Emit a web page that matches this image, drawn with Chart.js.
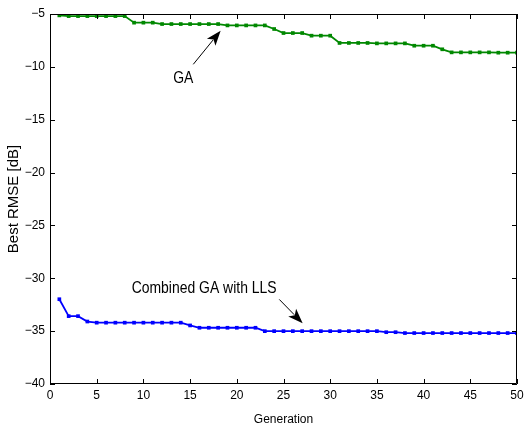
<!DOCTYPE html>
<html>
<head>
<meta charset="utf-8">
<script src="https://cdn.jsdelivr.net/npm/chart.js@4.4.0/dist/chart.umd.min.js"></script>
<style>
  html, body { margin: 0; padding: 0; background: #fff; }
</style>
</head>
<body>
<canvas id="rmse" width="525" height="432"></canvas>
<script>
// generation number (x axis)
const generations = [
  1, 2, 3, 4, 5, 6, 7, 8, 9, 10,
  11, 12, 13, 14, 15, 16, 17, 18, 19, 20,
  21, 22, 23, 24, 25, 26, 27, 28, 29, 30,
  31, 32, 33, 34, 35, 36, 37, 38, 39, 40,
  41, 42, 43, 44, 45, 46, 47, 48, 49, 50
];

// best RMSE [dB] of plain GA
const gaRmse = [
  -5.13, -5.2, -5.2, -5.2, -5.2, -5.2, -5.2, -5.2, -5.82, -5.82,
  -5.82, -5.95, -5.95, -5.95, -5.95, -5.95, -5.95, -5.95, -6.08, -6.08,
  -6.08, -6.08, -6.08, -6.42, -6.8, -6.8, -6.8, -7.05, -7.05, -7.05,
  -7.74, -7.74, -7.74, -7.74, -7.78, -7.78, -7.78, -7.78, -8.0, -8.0,
  -8.0, -8.34, -8.63, -8.63, -8.63, -8.63, -8.63, -8.66, -8.66, -8.66
];

// best RMSE [dB] of GA combined with LLS
const gaLlsRmse = [
  -31.98, -33.58, -33.58, -34.09, -34.2, -34.2, -34.2, -34.2, -34.2, -34.2,
  -34.2, -34.2, -34.2, -34.2, -34.46, -34.68, -34.68, -34.68, -34.68, -34.68,
  -34.68, -34.68, -35.0, -35.0, -35.0, -35.0, -35.0, -35.0, -35.0, -35.0,
  -35.0, -35.0, -35.0, -35.0, -35.0, -35.1, -35.1, -35.18, -35.18, -35.18,
  -35.18, -35.18, -35.18, -35.18, -35.18, -35.18, -35.18, -35.18, -35.18, -35.18
];

const xTicks = [0, 5, 10, 15, 20, 25, 30, 35, 40, 45, 50];
const yTicks = [-40, -35, -30, -25, -20, -15, -10, -5];

const seriesNames = ['GA', 'Combined GA with LLS'];

const FONT = "'Liberation Sans', Arial, sans-serif";

// text + arrow annotations, in data units
const notes = [
  { text: seriesNames[0], x: 14.27, y: -11.1, from: [15.34, -9.76], to: [18.27, -6.58] },
  { text: seriesNames[1], x: 16.5, y: -30.95, from: [24.55, -32.0], to: [27.05, -34.26] }
];

function toPoints(ys) {
  return generations.map((g, i) => ({ x: g, y: ys[i] }));
}

// matlab style box with inward ticks, plus the annotations
const matlabAxes = {
  id: 'matlabAxes',
  afterDraw(chart) {
    const ctx = chart.ctx;
    const a = chart.chartArea;
    const xs = chart.scales.x, ys = chart.scales.y;
    const tl = 5;
    ctx.save();
    ctx.strokeStyle = '#000';
    ctx.lineWidth = 1;
    ctx.beginPath();
    ctx.rect(a.left + 0.5, a.top + 0.5, a.right - a.left - 1, a.bottom - a.top - 1);
    xTicks.forEach(v => {
      const px = Math.round(xs.getPixelForValue(v)) + 0.5;
      ctx.moveTo(px, a.bottom); ctx.lineTo(px, a.bottom - tl);
      ctx.moveTo(px, a.top); ctx.lineTo(px, a.top + tl);
    });
    yTicks.forEach(v => {
      const py = Math.round(ys.getPixelForValue(v)) + 0.5;
      ctx.moveTo(a.left, py); ctx.lineTo(a.left + tl, py);
      ctx.moveTo(a.right, py); ctx.lineTo(a.right - tl, py);
    });
    ctx.stroke();

    // annotations (condensed like the matlab helvetica)
    ctx.fillStyle = '#000';
    ctx.font = '17px ' + FONT;
    ctx.textAlign = 'center';
    ctx.textBaseline = 'middle';
    notes.forEach(n => {
      const tx = xs.getPixelForValue(n.x), ty = ys.getPixelForValue(n.y);
      ctx.save();
      ctx.translate(tx, ty);
      ctx.scale(0.82, 1);
      ctx.fillText(n.text, 0, 0);
      ctx.restore();

      const x0 = xs.getPixelForValue(n.from[0]), y0 = ys.getPixelForValue(n.from[1]);
      const x1 = xs.getPixelForValue(n.to[0]), y1 = ys.getPixelForValue(n.to[1]);
      const ang = Math.atan2(y1 - y0, x1 - x0);
      const len = 15, hw = 5.5;
      ctx.beginPath();
      ctx.moveTo(x0, y0);
      ctx.lineTo(x1 - Math.cos(ang) * len * 0.8, y1 - Math.sin(ang) * len * 0.8);
      ctx.stroke();
      // notched arrow head
      const bx = x1 - Math.cos(ang) * len, by = y1 - Math.sin(ang) * len;
      const nx = x1 - Math.cos(ang) * len * 0.75, ny = y1 - Math.sin(ang) * len * 0.75;
      ctx.beginPath();
      ctx.moveTo(x1, y1);
      ctx.lineTo(bx + Math.sin(ang) * hw, by - Math.cos(ang) * hw);
      ctx.lineTo(nx, ny);
      ctx.lineTo(bx - Math.sin(ang) * hw, by + Math.cos(ang) * hw);
      ctx.closePath();
      ctx.fill();
    });
    ctx.restore();
  }
};

const minus = v => (v < 0 ? '\u2212' + Math.abs(v) : String(v));

new Chart(document.getElementById('rmse'), {
  type: 'line',
  data: {
    datasets: [
      {
        label: seriesNames[0],
        data: toPoints(gaRmse),
        borderColor: '#008800',
        backgroundColor: '#008800',
        borderWidth: 1.8,
        pointStyle: 'rect',
        pointRadius: 2.6,
        pointBorderWidth: 0,
        tension: 0
      },
      {
        label: seriesNames[1],
        data: toPoints(gaLlsRmse),
        borderColor: '#0000ff',
        backgroundColor: '#0000ff',
        borderWidth: 1.8,
        pointStyle: 'rect',
        pointRadius: 2.6,
        pointBorderWidth: 0,
        tension: 0
      }
    ]
  },
  options: {
    responsive: false,
    animation: false,
    devicePixelRatio: 1,
    layout: { padding: { top: 14, right: 8, left: 0, bottom: 0 } },
    plugins: {
      legend: { display: false },
      tooltip: { enabled: false }
    },
    scales: {
      x: {
        type: 'linear',
        min: 0,
        max: 50,
        afterFit: s => { s.height = 48; s.paddingRight = 0; s.paddingLeft = 0; },
        afterBuildTicks: s => { s.ticks = xTicks.map(v => ({ value: v })); },
        grid: { display: false, drawTicks: false },
        border: { display: false },
        ticks: {
          color: '#000',
          padding: 4,
          maxRotation: 0,
          font: { family: FONT, size: 12 },
          callback: minus
        },
        title: {
          display: true,
          text: 'Generation',
          color: '#000',
          font: { family: FONT, size: 12 },
          padding: { top: 0, bottom: 5 }
        }
      },
      y: {
        type: 'linear',
        min: -40,
        max: -5,
        afterFit: s => { s.width = 50; },
        afterBuildTicks: s => { s.ticks = yTicks.map(v => ({ value: v })); },
        grid: { display: false, drawTicks: false },
        border: { display: false },
        ticks: {
          color: '#000',
          padding: 5,
          font: { family: FONT, size: 12 },
          callback: minus
        },
        title: {
          display: true,
          text: 'Best RMSE [dB]',
          color: '#000',
          font: { family: FONT, size: 15 },
          padding: { top: 5, bottom: 0 }
        }
      }
    }
  },
  plugins: [matlabAxes]
});
</script>
</body>
</html>
